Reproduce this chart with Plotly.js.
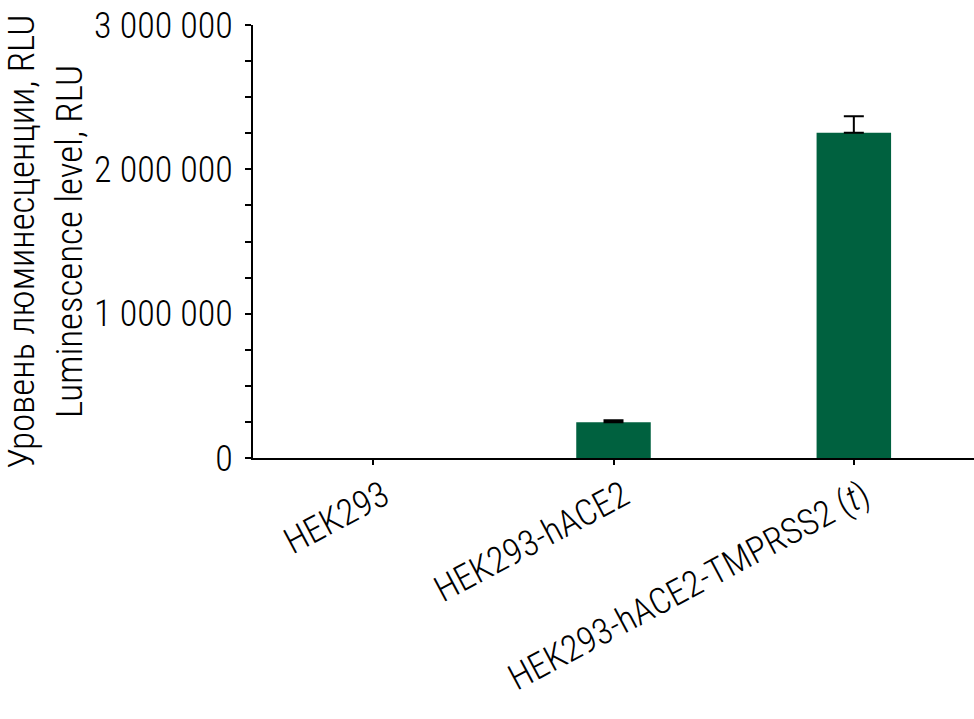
<!DOCTYPE html>
<html>
<head>
<meta charset="utf-8">
<script src="https://cdn.plot.ly/plotly-3.0.1.min.js"></script>
<style>html,body{margin:0;padding:0;background:#fff;}#chart{width:974px;height:719px;}
#chart text{font-stretch:condensed;}</style>
</head>
<body>
<div id="chart"></div>
<script>
const categories = ["HEK293", "HEK293-hACE2", "HEK293-hACE2-TMPRSS2 (<i>t</i>)"];
const values = [0, 247000, 2254000];
const errorsPlus = [NaN, 14000, 114000];
const errorsMinus = [NaN, 0, 0];
const yTickVals = [0, 1000000, 2000000, 3000000];
const yTickText = ["0", "1 000 000", "2 000 000", "3 000 000"];
const yTitle = "Уровень люминесценции, RLU<br>Luminescence level, RLU";

const FONT = "Roboto, 'Roboto Condensed', sans-serif";

Plotly.newPlot('chart', [{
  type: 'bar',
  x: categories,
  y: values,
  width: 0.31,
  marker: {color: '#00613f', line: {width: 0}},
  error_y: {type: 'data', array: errorsPlus, symmetric: false, arrayminus: errorsMinus, visible: true, color: '#000', thickness: 2, width: 10}
}], {
  width: 974, height: 719,
  margin: {l: 253, r: 0, t: 25, b: 261},
  paper_bgcolor: '#fff', plot_bgcolor: '#fff',
  showlegend: false,
  font: {family: FONT, color: '#000', size: 34, weight: 300},
  xaxis: {
    type: 'category', range: [-0.5, 2.5],
    showline: true, linecolor: '#000', linewidth: 2,
    ticks: 'outside', ticklen: 5, tickwidth: 2, tickcolor: '#000',
    tickangle: -28, tickfont: {family: FONT, size: 36, weight: 300},
    ticklabelshift: 10, ticklabelstandoff: -4,
    showgrid: false, zeroline: false, fixedrange: true
  },
  yaxis: {
    range: [0, 3000000],
    tickvals: yTickVals, ticktext: yTickText,
    showline: true, linecolor: '#000', linewidth: 2,
    ticks: 'outside', ticklen: 6, tickwidth: 2, tickcolor: '#000',
    minor: {dtick: 250000, ticks: 'outside', ticklen: 6, tickwidth: 2, tickcolor: '#000'},
    ticklabelstandoff: 5,
    tickfont: {family: FONT, size: 36, weight: 300},
    title: {text: yTitle, font: {family: FONT, size: 37, weight: 300}, standoff: 24},
    showgrid: false, zeroline: false
  }
}, {displayModeBar: false, staticPlot: true});
</script>
</body>
</html>
